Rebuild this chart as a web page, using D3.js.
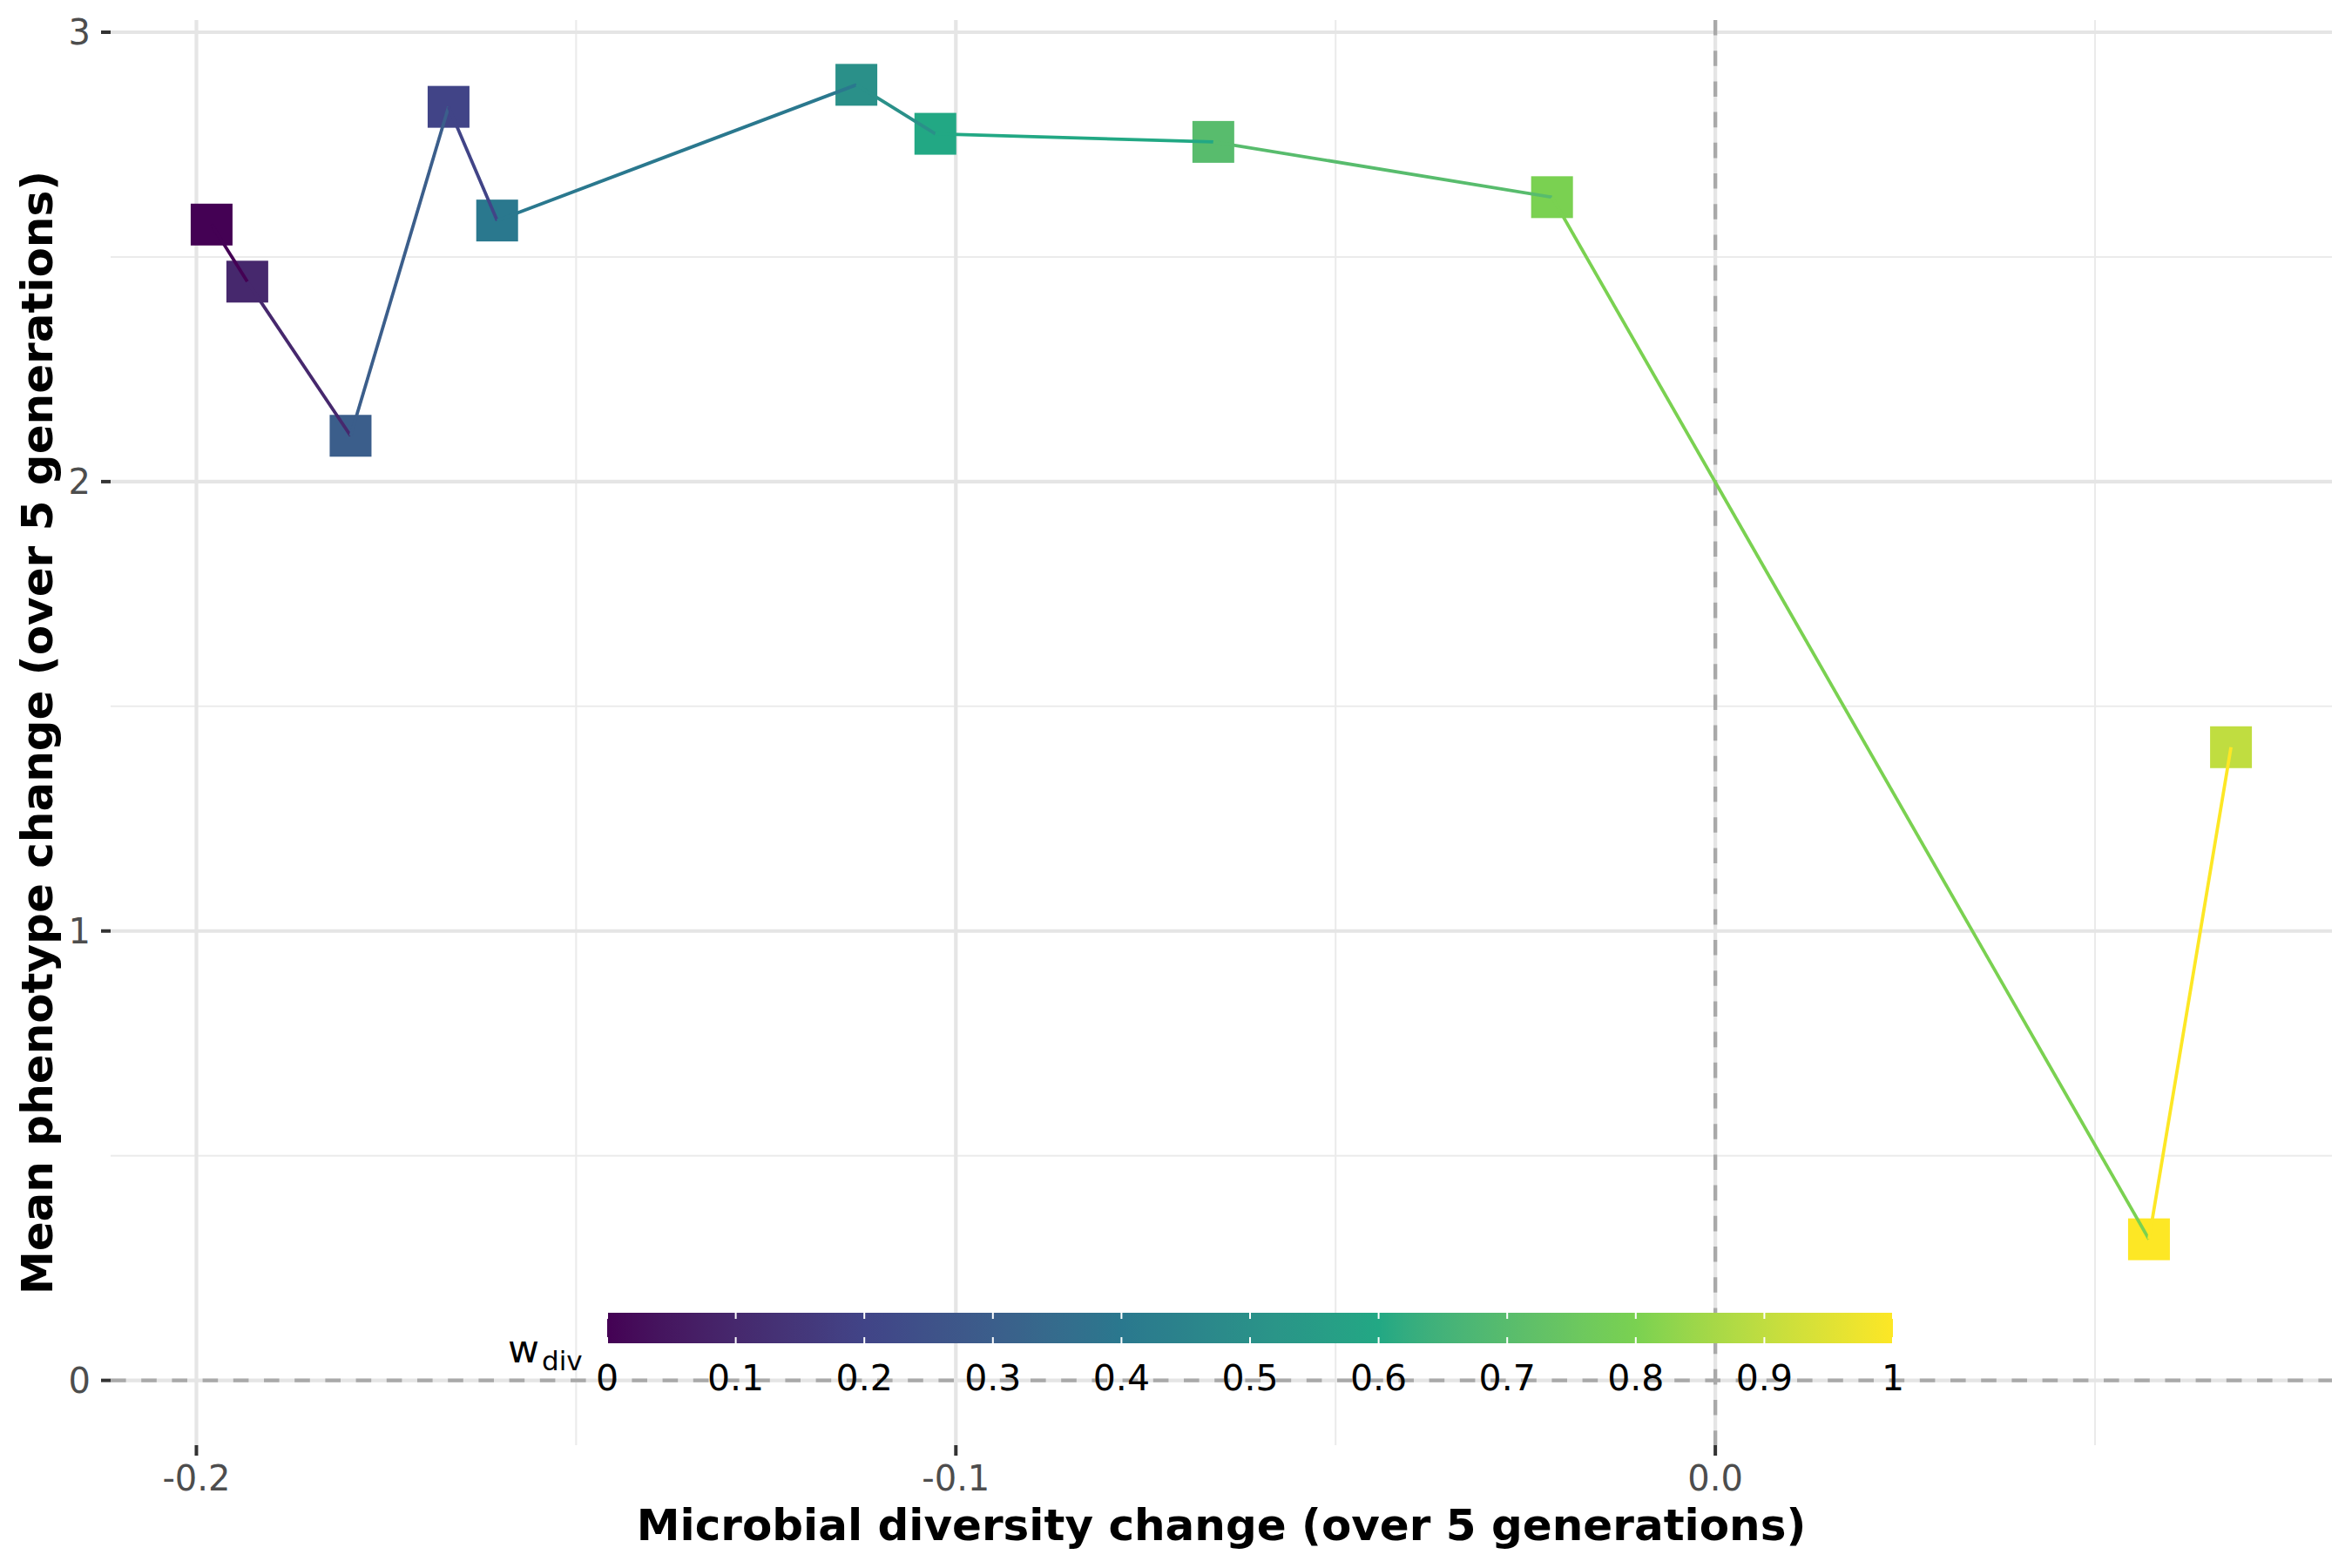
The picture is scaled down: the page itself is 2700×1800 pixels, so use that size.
<!DOCTYPE html>
<html>
<head>
<meta charset="utf-8">
<script src="https://cdn.jsdelivr.net/npm/d3@7"></script>
<style>
  body { margin: 0; background: #fff; }
  text { font-family: "DejaVu Sans", sans-serif; }
</style>
</head>
<body>
<div id="plot"></div>
<script>
// values, ordered by w_div
var wDiv = [0, 0.1, 0.2, 0.3, 0.4, 0.5, 0.6, 0.7, 0.8, 0.9, 1.0];
var divChange = [-0.1980, -0.1933, -0.1668, -0.1797, -0.1604, -0.1131, -0.1027, -0.0661, -0.0215, 0.0679, 0.0571];
var phenoChange = [2.572, 2.445, 2.834, 2.102, 2.581, 2.883, 2.774, 2.756, 2.633, 1.409, 0.314];

var xMajor = [-0.2, -0.1, 0.0];
var xMajorLabels = ["-0.2", "-0.1", "0.0"];
var xMinor = [-0.15, -0.05, 0.05];
var yMajor = [0, 1, 2, 3];
var yMajorLabels = ["0", "1", "2", "3"];
var yMinor = [0.5, 1.5, 2.5];
var legendTicks = [0, 0.1, 0.2, 0.3, 0.4, 0.5, 0.6, 0.7, 0.8, 0.9, 1];
var legendLabels = ["0", "0.1", "0.2", "0.3", "0.4", "0.5", "0.6", "0.7", "0.8", "0.9", "1"];
// viridis(6) anchors, blended in Lab like scale_colour_viridis_c
var palStops = [0, 0.2, 0.4, 0.6, 0.8, 1];
var palCols = ["#440154", "#414487", "#2A788E", "#22A884", "#7AD151", "#FDE725"];

var W = 2700, H = 1800;
// panel box (window.top is taken, so pTop etc.)
var pLeft = 127, pRight = 2677, pTop = 23, pBottom = 1659;

// ggplot style 5% expansion (the hline at 0 is part of the y range)
function expand(lo, hi) {
  var pad = (hi - lo) * 0.05;
  return [lo - pad, hi + pad];
}
var xExt = d3.extent(divChange);
var yExt = d3.extent(phenoChange.concat([0]));

var x = d3.scaleLinear().domain(expand(xExt[0], xExt[1])).range([pLeft, pRight]);
var y = d3.scaleLinear().domain(expand(yExt[0], yExt[1])).range([pBottom, pTop]);
var col = d3.scaleLinear().domain(palStops).range(palCols).interpolate(d3.interpolateLab);

var svg = d3.select("#plot").append("svg")
  .attr("width", W)
  .attr("height", H);
svg.append("rect").attr("width", W).attr("height", H).attr("fill", "#fff");

// grid
var grid = svg.append("g");
grid.selectAll(".xmin").data(xMinor).enter().append("line")
  .attr("x1", function(d) { return x(d); }).attr("x2", function(d) { return x(d); })
  .attr("y1", pTop).attr("y2", pBottom)
  .attr("stroke", "#ebebeb").attr("stroke-width", 2.1);
grid.selectAll(".ymin").data(yMinor).enter().append("line")
  .attr("y1", function(d) { return y(d); }).attr("y2", function(d) { return y(d); })
  .attr("x1", pLeft).attr("x2", pRight)
  .attr("stroke", "#ebebeb").attr("stroke-width", 2.1);
grid.selectAll(".xmaj").data(xMajor).enter().append("line")
  .attr("x1", function(d) { return x(d); }).attr("x2", function(d) { return x(d); })
  .attr("y1", pTop).attr("y2", pBottom)
  .attr("stroke", "#e5e5e5").attr("stroke-width", 4.2);
grid.selectAll(".ymaj").data(yMajor).enter().append("line")
  .attr("y1", function(d) { return y(d); }).attr("y2", function(d) { return y(d); })
  .attr("x1", pLeft).attr("x2", pRight)
  .attr("stroke", "#e5e5e5").attr("stroke-width", 4.2);

// reference lines at zero
svg.append("line")
  .attr("x1", pLeft).attr("x2", pRight).attr("y1", y(0)).attr("y2", y(0))
  .attr("stroke", "#a9a9a9").attr("stroke-width", 4.3).attr("stroke-dasharray", "17.6,17.6");
svg.append("line")
  .attr("x1", x(0)).attr("x2", x(0)).attr("y1", pTop).attr("y2", pBottom)
  .attr("stroke", "#a9a9a9").attr("stroke-width", 4.3).attr("stroke-dasharray", "17.6,17.6");

// points
var idx = d3.range(wDiv.length);
var sq = 48;
svg.selectAll(".pt").data(idx).enter().append("rect")
  .attr("x", function(i) { return x(divChange[i]) - sq / 2; })
  .attr("y", function(i) { return y(phenoChange[i]) - sq / 2; })
  .attr("width", sq).attr("height", sq)
  .attr("fill", function(i) { return col(wDiv[i]); });

// path sorted by x, each piece takes the colour of its start point
var ord = idx.slice().sort(function(a, b) { return divChange[a] - divChange[b]; });
var segs = d3.pairs(ord);
svg.selectAll(".seg").data(segs).enter().append("line")
  .attr("x1", function(s) { return x(divChange[s[0]]); })
  .attr("y1", function(s) { return y(phenoChange[s[0]]); })
  .attr("x2", function(s) { return x(divChange[s[1]]); })
  .attr("y2", function(s) { return y(phenoChange[s[1]]); })
  .attr("stroke", function(s) { return col(wDiv[s[0]]); })
  .attr("stroke-width", 3.8);

// axes
var ax = svg.append("g");
ax.selectAll(".yt").data(yMajor).enter().append("line")
  .attr("x1", pLeft - 11).attr("x2", pLeft)
  .attr("y1", function(d) { return y(d); }).attr("y2", function(d) { return y(d); })
  .attr("stroke", "#333").attr("stroke-width", 4);
ax.selectAll(".yl").data(yMajor).enter().append("text")
  .attr("x", pLeft - 23).attr("y", function(d) { return y(d); })
  .attr("dy", "0.36em").attr("text-anchor", "end")
  .attr("font-size", 40).attr("fill", "#4d4d4d")
  .text(function(d, i) { return yMajorLabels[i]; });
ax.selectAll(".xt").data(xMajor).enter().append("line")
  .attr("x1", function(d) { return x(d); }).attr("x2", function(d) { return x(d); })
  .attr("y1", pBottom).attr("y2", pBottom + 12)
  .attr("stroke", "#333").attr("stroke-width", 4);
ax.selectAll(".xl").data(xMajor).enter().append("text")
  .attr("x", function(d) { return x(d); }).attr("y", 1711)
  .attr("text-anchor", "middle")
  .attr("font-size", 40).attr("fill", "#4d4d4d")
  .text(function(d, i) { return xMajorLabels[i]; });

svg.append("text")
  .attr("x", (pLeft + pRight) / 2).attr("y", 1768)
  .attr("text-anchor", "middle")
  .attr("font-size", 50).attr("font-weight", "bold").attr("fill", "#000")
  .text("Microbial diversity change (over 5 generations)");
svg.append("text")
  .attr("transform", "translate(60," + ((pTop + pBottom) / 2) + ")rotate(-90)")
  .attr("text-anchor", "middle")
  .attr("font-size", 50).attr("font-weight", "bold").attr("fill", "#000")
  .text("Mean phenotype change (over 5 generations)");

// colour bar legend
var barL = 697, barR = 2173, barT = 1507, barH = 35;
var lx = d3.scaleLinear().domain([0, 1]).range([barL, barR]);
var grad = svg.append("defs").append("linearGradient").attr("id", "vir")
  .attr("x1", "0%").attr("x2", "100%").attr("y1", "0%").attr("y2", "0%");
grad.selectAll("stop").data(d3.range(0, 1.0001, 0.02)).enter().append("stop")
  .attr("offset", function(d) { return (d * 100) + "%"; })
  .attr("stop-color", function(d) { return col(d); });
var leg = svg.append("g");
leg.append("rect")
  .attr("x", barL).attr("y", barT).attr("width", barR - barL).attr("height", barH)
  .attr("fill", "url(#vir)");
leg.selectAll(".lt1").data(legendTicks).enter().append("line")
  .attr("x1", function(d) { return lx(d); }).attr("x2", function(d) { return lx(d); })
  .attr("y1", barT).attr("y2", barT + 7)
  .attr("stroke", "#fff").attr("stroke-width", 2);
leg.selectAll(".lt2").data(legendTicks).enter().append("line")
  .attr("x1", function(d) { return lx(d); }).attr("x2", function(d) { return lx(d); })
  .attr("y1", barT + barH - 7).attr("y2", barT + barH)
  .attr("stroke", "#fff").attr("stroke-width", 2);
leg.selectAll(".ll").data(legendTicks).enter().append("text")
  .attr("x", function(d) { return lx(d); }).attr("y", 1596)
  .attr("text-anchor", "middle")
  .attr("font-size", 41).attr("fill", "#000")
  .text(function(d, i) { return legendLabels[i]; });
var title = leg.append("text")
  .attr("x", 583).attr("y", 1564)
  .attr("font-size", 44).attr("fill", "#000");
title.append("tspan").text("w");
title.append("tspan").attr("font-size", 31).attr("dy", 9).attr("dx", 3).text("div");
</script>
</body>
</html>
